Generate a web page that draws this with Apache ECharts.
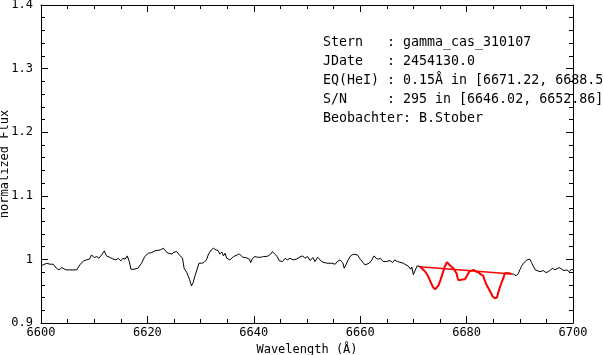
<!DOCTYPE html>
<html>
<head>
<meta charset="utf-8">
<script src="https://cdn.jsdelivr.net/npm/echarts@6/dist/echarts.min.js"></script>
<style>html,body{margin:0;padding:0;background:#fff;}#c{width:604px;height:355px;}</style>
</head>
<body>
<div id="c"></div>
<script>
// Spectrum (wavelength in Å, normalized flux)
const specWave = [6600.0,6600.4,6601.1,6601.7,6602.3,6602.9,6603.4,6603.9,6604.2,6604.7,6606.7,6607.3,6608.0,6608.5,6609.1,6609.5,6610.0,6610.5,6610.9,6611.4,6611.9,6612.3,6613.0,6613.6,6614.1,6614.5,6615.0,6615.4,6615.8,6616.2,6616.6,6616.9,6617.5,6618.2,6618.9,6619.5,6620.2,6620.8,6621.4,6622.4,6622.7,6623.0,6623.5,6623.9,6624.6,6625.0,6625.5,6626.0,6626.6,6626.9,6627.4,6627.9,6628.3,6628.6,6628.9,6629.3,6629.7,6630.2,6630.6,6631.1,6631.5,6632.0,6632.4,6632.9,6633.3,6633.6,6634.0,6634.3,6634.6,6634.9,6635.2,6635.5,6635.8,6636.2,6636.5,6636.9,6637.3,6637.5,6637.9,6638.2,6638.5,6638.8,6639.2,6639.4,6639.8,6640.2,6640.7,6641.0,6641.4,6641.8,6642.3,6642.7,6643.2,6643.5,6643.9,6644.2,6644.4,6644.8,6645.1,6645.4,6645.9,6646.3,6646.8,6647.4,6648.1,6648.7,6649.2,6649.6,6650.1,6650.6,6651.1,6651.5,6652.0,6652.3,6652.8,6653.7,6654.6,6655.3,6655.7,6656.2,6656.7,6657.0,6657.3,6657.8,6658.2,6658.7,6659.0,6659.5,6660.0,6660.5,6660.9,6661.2,6661.7,6662.2,6662.6,6663.0,6663.4,6663.8,6664.3,6664.9,6665.6,6666.1,6666.5,6667.0,6667.3,6668.1,6668.6,6669.0,6669.5,6669.7,6670.0,6670.3,6670.7,6670.95,6671.25,6671.6,6672.2,6672.8,6673.2,6673.7,6674.1,6674.4,6674.7,6675.1,6675.5,6675.9,6676.3,6676.6,6676.9,6677.2,6677.5,6677.8,6678.1,6678.4,6678.8,6679.7,6680.1,6680.5,6680.8,6681.3,6681.8,6682.2,6682.6,6683.1,6683.6,6684.1,6684.5,6684.9,6685.3,6685.7,6686.0,6686.3,6686.6,6686.9,6687.2,6687.5,6687.9,6688.3,6688.8,6689.3,6689.7,6690.0,6690.3,6690.7,6691.0,6691.3,6691.6,6691.9,6692.2,6692.5,6692.9,6693.2,6693.8,6694.4,6694.9,6695.4,6695.8,6696.2,6696.6,6696.9,6697.4,6697.9,6698.3,6698.8,6699.3,6699.7,6700.0];
const specFlux = [0.9905,0.9914,0.9940,0.9924,0.9924,0.9861,0.9835,0.9872,0.9861,0.9835,0.9835,0.9914,0.9976,0.9992,1.0003,1.0071,1.0029,1.0045,1.0018,1.0071,1.0134,1.0055,1.0029,1.0003,0.9992,1.0018,0.9976,1.0018,1.0003,1.0055,0.9966,0.9845,0.9845,0.9861,0.9940,1.0045,1.0097,1.0107,1.0134,1.0149,1.0149,1.0176,1.0123,1.0097,1.0086,1.0113,1.0123,1.0071,1.0018,0.9861,0.9793,0.9688,0.9583,0.9636,0.9730,0.9835,0.9940,0.9940,0.9950,0.9992,1.0086,1.0149,1.0176,1.0149,1.0139,1.0086,1.0113,1.0055,1.0097,1.0018,1.0045,0.9992,1.0018,1.0045,1.0034,1.0071,1.0086,1.0055,1.0034,1.0003,1.0029,1.0055,1.0003,0.9950,1.0018,1.0045,1.0034,1.0003,1.0034,1.0045,1.0045,1.0055,1.0086,1.0123,1.0086,1.0097,1.0045,0.9976,1.0003,0.9966,1.0018,0.9992,1.0018,0.9992,1.0008,1.0040,1.0055,1.0018,1.0045,0.9982,1.0029,0.9966,1.0034,1.0003,0.9961,0.9940,0.9940,0.9924,0.9966,0.9992,0.9950,0.9861,0.9913,1.0003,1.0055,1.0081,1.0055,1.0071,1.0003,0.9955,0.9913,0.9898,0.9940,0.9992,1.0055,1.0018,1.0003,1.0018,0.9966,0.9966,0.9982,0.9950,0.9992,0.9966,0.9940,0.9940,0.9913,0.9898,0.9845,0.9880,0.9760,0.9790,0.9900,0.9914,0.9885,0.9861,0.9809,0.9730,0.9651,0.9562,0.9531,0.9547,0.9589,0.9678,0.9782,0.9887,0.9955,0.9940,0.9903,0.9913,0.9861,0.9819,0.9782,0.9678,0.9678,0.9688,0.9746,0.9809,0.9835,0.9835,0.9809,0.9798,0.9767,0.9746,0.9625,0.9547,0.9484,0.9416,0.9389,0.9400,0.9494,0.9573,0.9641,0.9704,0.9782,0.9767,0.9782,0.9777,0.9767,0.9745,0.9772,0.9835,0.9887,0.9940,0.9966,0.9992,0.9966,1.0003,0.9950,0.9898,0.9835,0.9808,0.9808,0.9824,0.9793,0.9808,0.9835,0.9861,0.9835,0.9808,0.9872,0.9845,0.9824,0.9835,0.9808,0.9845,0.9835];
// Equivalent-width integration range and continuum
const eqRange = [6671.22, 6688.5];
const contWave = [6671.22, 6688.5];
const contFlux = [0.9885, 0.9772];
// Info text lines
const infoLines = [
  'Stern   : gamma_cas_310107',
  'JDate   : 2454130.0',
  'EQ(HeI) : 0.15Å in [6671.22, 6688.50]',
  'S/N     : 295 in [6646.02, 6652.86]',
  'Beobachter: B.Stober'
];

const specData = specWave.map((w, i) => [w, specFlux[i]]);
const redData = specData.filter(p => p[0] >= eqRange[0] - 0.05 && p[0] <= eqRange[1]);
const contData = contWave.map((w, i) => [w, contFlux[i]]);

const FONT = '"DejaVu Sans Mono", "Liberation Mono", monospace';
const chart = echarts.init(document.getElementById('c'), null, {renderer: 'canvas'});

const baseX = {
  type: 'value', min: 6600, max: 6700, interval: 20,
  axisLine: {show: true, onZero: false, lineStyle: {color: '#000', width: 1}},
  axisTick: {show: true, inside: true, length: 7, lineStyle: {color: '#000'}},
  minorTick: {show: true, splitNumber: 4, length: 4, lineStyle: {color: '#000'}},
  splitLine: {show: false}, minorSplitLine: {show: false}
};
const baseY = {
  type: 'value', min: 0.9, max: 1.4, interval: 0.1,
  axisLine: {show: true, onZero: false, lineStyle: {color: '#000', width: 1}},
  axisTick: {show: true, inside: true, length: 7, lineStyle: {color: '#000'}},
  minorTick: {show: true, splitNumber: 5, length: 4, lineStyle: {color: '#000'}},
  splitLine: {show: false}, minorSplitLine: {show: false}
};

chart.setOption({
  animation: false,
  backgroundColor: '#fff',
  grid: {left: 41, right: 31, top: 5, bottom: 32, containLabel: false, outerBoundsMode: 'none'},
  xAxis: [
    Object.assign({}, baseX, {
      position: 'bottom',
      axisLabel: {color: '#000', fontFamily: FONT, fontSize: 12, margin: 4,
                  formatter: v => String(Math.round(v))},
      name: 'Wavelength (Å)', nameLocation: 'middle', nameGap: 18,
      nameTextStyle: {color: '#000', fontFamily: FONT, fontSize: 12}
    }),
    Object.assign({}, baseX, {position: 'top', axisLabel: {show: false}})
  ],
  yAxis: [
    Object.assign({}, baseY, {
      position: 'left',
      axisLabel: {color: '#000', fontFamily: FONT, fontSize: 12, margin: 8},
      name: 'normalized Flux', nameLocation: 'middle', nameGap: 30, nameMoveOverlap: false,
      nameTextStyle: {color: '#000', fontFamily: FONT, fontSize: 12}
    }),
    Object.assign({}, baseY, {position: 'right', axisLabel: {show: false}})
  ],
  series: [
    {type: 'line', data: specData, symbol: 'none', xAxisIndex: 0, yAxisIndex: 0,
     lineStyle: {color: '#000', width: 1}, z: 2},
    {type: 'line', data: redData, symbol: 'none', xAxisIndex: 0, yAxisIndex: 0,
     lineStyle: {color: '#ff0000', width: 2}, z: 3},
    {type: 'line', data: contData, symbol: 'none', xAxisIndex: 0, yAxisIndex: 0,
     lineStyle: {color: '#ff0000', width: 1.5}, z: 3}
  ],
  graphic: infoLines.map((t, i) => ({
    type: 'text', left: 323, top: 36 + i * 19, z: 10,
    style: {text: t, fill: '#000', font: '13.3px ' + FONT}
  }))
});
</script>
</body>
</html>
